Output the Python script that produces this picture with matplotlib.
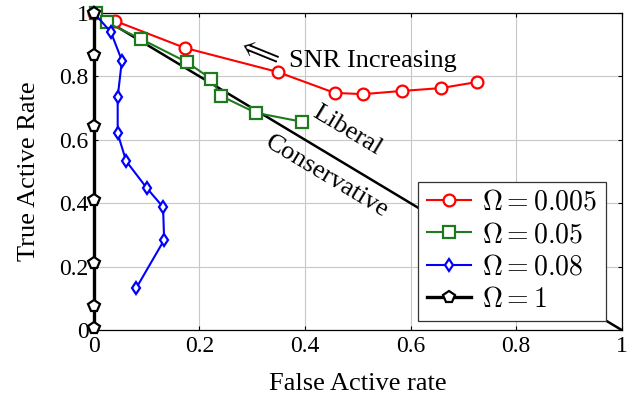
import numpy as np
import matplotlib.pyplot as plt

plt.rcParams['font.family'] = ['Liberation Serif', 'DejaVu Serif']
plt.rcParams['mathtext.fontset'] = 'cm'

# red, Omega = 0.005
x_a = [0.0, 0.04, 0.172, 0.348, 0.456, 0.51, 0.583, 0.657, 0.725]
y_a = [1.0, 0.975, 0.89, 0.814, 0.748, 0.744, 0.754, 0.763, 0.782]
# green, Omega = 0.05
x_b = [0.003, 0.024, 0.089, 0.176, 0.222, 0.241, 0.307, 0.394]
y_b = [1.0, 0.97, 0.918, 0.845, 0.792, 0.738, 0.685, 0.657]
# blue, Omega = 0.08
x_c = [0.0, 0.032, 0.053, 0.045, 0.045, 0.061, 0.1, 0.131, 0.133, 0.08]
y_c = [1.0, 0.94, 0.85, 0.735, 0.62, 0.533, 0.448, 0.388, 0.284, 0.132]
# black, Omega = 1
x_d = [0.0, 0.0, 0.0, 0.0, 0.0, 0.0, 0.0]
y_d = [1.0, 0.867, 0.643, 0.41, 0.211, 0.076, 0.006]

labels = [r'$\Omega = 0.005$', r'$\Omega = 0.05$', r'$\Omega = 0.08$', r'$\Omega = 1$']
ticks = [0, 0.2, 0.4, 0.6, 0.8, 1]
tick_labels = ['0', '0.2', '0.4', '0.6', '0.8', '1']

fig = plt.figure(figsize=(6.39, 4.05), dpi=100)
ax = fig.add_axes([0.147, 0.185, 0.826, 0.783])

# chance line
ax.plot([0, 1], [1, 0], color='k', lw=1.8, zorder=2)

ax.plot(x_a, y_a, '-o', color='red', lw=1.5, ms=8.5, mfc='white', mew=1.6,
        label=labels[0], clip_on=False, zorder=3)
ax.plot(x_b, y_b, '-s', color='#1f7a1f', lw=1.5, ms=8.5, mfc='white', mew=1.6,
        label=labels[1], clip_on=False, zorder=3)
ax.plot(x_c, y_c, '-d', color='blue', lw=1.5, ms=6, mfc='white', mew=1.6,
        label=labels[2], clip_on=False, zorder=3)
ax.plot(x_d, y_d, '-p', color='black', lw=2.4, ms=8.5, mfc='white', mew=1.6,
        label=labels[3], clip_on=False, zorder=4)

ax.set_xlim(0, 1)
ax.set_ylim(0, 1)
ax.set_xticks(ticks)
ax.set_xticklabels(tick_labels)
ax.set_yticks(ticks)
ax.set_yticklabels(tick_labels)
ax.tick_params(direction='in', labelsize=17, length=3, top=True, right=True,
               pad=4)
ax.grid(True, color='#c8c8c8', lw=0.8)
ax.set_axisbelow(True)
for s in ax.spines.values():
    s.set_linewidth(0.9)

ax.set_xlabel('False Active rate', fontsize=19, labelpad=12)
ax.set_ylabel('True Active Rate', fontsize=19, labelpad=14)

ax.text(0.31, 0.878, r'$\Longleftarrow$', fontsize=18, rotation=-22,
        ha='center', va='center')
ax.text(0.369, 0.85, 'SNR Increasing', fontsize=19, ha='left', va='center')
ax.text(0.48, 0.628, 'Liberal', fontsize=19, rotation=-31,
        ha='center', va='center')
ax.text(0.441, 0.483, 'Conservative', fontsize=19, rotation=-31,
        ha='center', va='center')

leg = ax.legend(loc='lower right', bbox_to_anchor=(0.970, 0.028),
                fontsize=20, fancybox=False, framealpha=1,
                edgecolor='#333333', handlelength=1.6, borderpad=0.3,
                labelspacing=0.25, handletextpad=0.4, borderaxespad=0)
leg.get_frame().set_linewidth(0.9)

fig.savefig('out.png', dpi=100)
